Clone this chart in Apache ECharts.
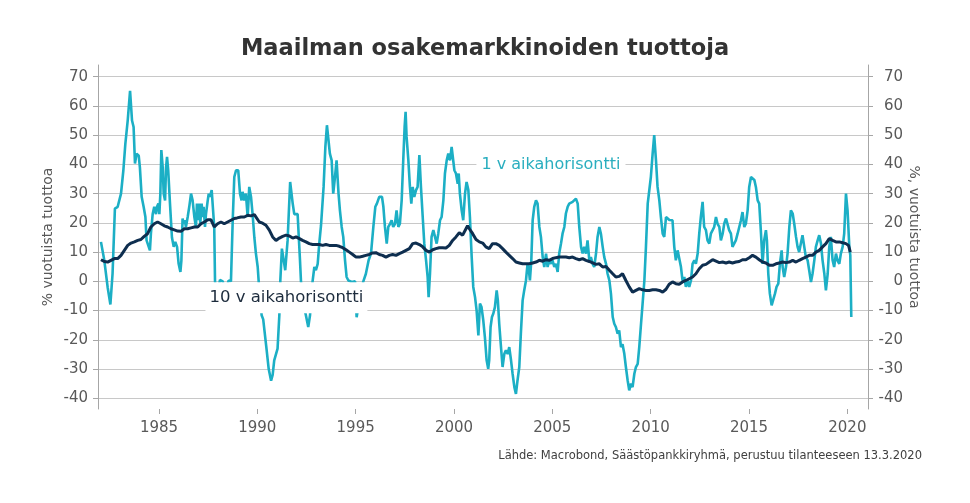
<!DOCTYPE html>
<html><head><meta charset="utf-8">
<script src="https://cdn.jsdelivr.net/npm/echarts@6/dist/echarts.min.js"></script>
<style>html,body{margin:0;padding:0;background:#fff}#c{width:970px;height:503px}</style>
</head><body><div id="c"></div>
<script>
const titleText = 'Maailman osakemarkkinoiden tuottoja';
const sourceText = 'Lähde: Macrobond, Säästöpankkiryhmä, perustuu tilanteeseen 13.3.2020';
const leftAxisName = '% vuotuista tuottoa';
const rightAxisName = '%, vuotuista tuottoa';
const oneYearLabel = '1 v aikahorisontti';
const tenYearLabel = '10 v aikahorisontti';
const yearTicks = [1985, 1990, 1995, 2000, 2005, 2010, 2015, 2020];
const valueTicks = [-40, -30, -20, -10, 0, 10, 20, 30, 40, 50, 60, 70];

const oneYearTime = [
1982.05,1982.22,1982.39,1982.53,1982.64,1982.76,1982.90,1982.98,1983.07,1983.19,1983.29,1983.41,1983.53,1983.63,1983.71,1983.78,1983.86,1983.97,1984.03,1984.12,1984.22,1984.31,1984.37,1984.48,1984.54,1984.59,1984.68,1984.76,1984.85,1984.90,1984.97,1985.02,1985.07,1985.12,1985.19,1985.24,1985.31,1985.36,1985.41,1985.47,1985.56,1985.66,1985.75,1985.83,1985.92,1986.00,1986.09,1986.14,1986.20,1986.25,1986.32,1986.37,1986.46,1986.54,1986.63,1986.71,1986.80,1986.88,1986.93,1987.00,1987.05,1987.10,1987.17,1987.22,1987.27,1987.34,1987.39,1987.48,1987.53,1987.59,1987.68,1987.73,1987.81,1987.85,1987.93,1988.02,1988.10,1988.24,1988.37,1988.54,1988.66,1988.75,1988.83,1988.92,1989.03,1989.12,1989.20,1989.25,1989.34,1989.42,1989.51,1989.59,1989.68,1989.76,1989.85,1989.93,1990.02,1990.07,1990.15,1990.22,1990.30,1990.45,1990.58,1990.70,1990.78,1990.86,1990.95,1991.03,1991.12,1991.17,1991.25,1991.42,1991.54,1991.67,
1991.80,1991.88,1991.97,1992.05,1992.10,1992.17,1992.22,1992.35,1992.47,1992.59,1992.68,1992.81,1992.90,1992.98,1993.07,1993.15,1993.24,1993.32,1993.37,1993.46,1993.54,1993.63,1993.69,1993.78,1993.86,1993.95,1994.03,1994.08,1994.13,1994.20,1994.29,1994.37,1994.46,1994.54,1994.63,1994.71,1994.80,1994.90,1994.97,1995.05,1995.15,1995.39,1995.52,1995.66,1995.78,1995.90,1996.00,1996.08,1996.20,1996.34,1996.41,1996.49,1996.58,1996.66,1996.75,1996.83,1996.91,1997.00,1997.08,1997.17,1997.25,1997.34,1997.42,1997.49,1997.54,1997.59,1997.68,1997.76,1997.83,1997.90,1997.98,1998.07,1998.15,1998.24,1998.32,1998.41,1998.49,1998.58,1998.66,1998.71,1998.78,1998.86,1998.95,1999.03,1999.12,1999.20,1999.29,1999.37,1999.46,1999.54,1999.63,1999.71,1999.80,1999.88,1999.97,2000.02,2000.10,2000.19,2000.24,2000.30,2000.39,2000.47,2000.56,2000.64,2000.73,2000.81,2000.90,2000.98,2001.07,2001.15,2001.24,
2001.32,2001.40,2001.49,2001.57,2001.66,2001.74,2001.79,2001.86,2001.93,2002.00,2002.08,2002.17,2002.23,2002.30,2002.39,2002.47,2002.56,2002.64,2002.73,2002.81,2002.90,2002.98,2003.07,2003.15,2003.23,2003.32,2003.40,2003.49,2003.57,2003.66,2003.74,2003.79,2003.86,2003.93,2004.00,2004.08,2004.17,2004.25,2004.34,2004.42,2004.51,2004.59,2004.68,2004.76,2004.84,2004.93,2005.01,2005.10,2005.18,2005.27,2005.35,2005.44,2005.52,2005.61,2005.69,2005.78,2005.86,2005.95,2006.03,2006.12,2006.20,2006.29,2006.37,2006.46,2006.54,2006.62,2006.71,2006.79,2006.88,2006.96,2007.05,2007.13,2007.22,2007.30,2007.39,2007.47,2007.56,2007.64,2007.73,2007.81,2007.90,2007.98,2008.07,2008.15,2008.23,2008.32,2008.40,2008.49,2008.57,2008.66,2008.74,2008.83,2008.91,2009.00,2009.08,2009.17,2009.25,2009.34,2009.42,2009.51,2009.59,2009.68,2009.76,2009.85,2009.93,2010.01,2010.10,2010.18,2010.27,2010.35,2010.44,2010.52,2010.61,2010.69,2010.78,2010.86,2010.95,
2011.03,2011.11,2011.20,2011.28,2011.37,2011.45,2011.54,2011.62,2011.71,2011.79,2011.88,2011.96,2012.05,2012.13,2012.22,2012.30,2012.39,2012.47,2012.55,2012.64,2012.72,2012.81,2012.89,2012.98,2013.06,2013.15,2013.23,2013.32,2013.40,2013.49,2013.57,2013.66,2013.74,2013.83,2013.91,2013.99,2014.08,2014.16,2014.25,2014.33,2014.42,2014.50,2014.59,2014.67,2014.76,2014.84,2014.93,2015.01,2015.10,2015.18,2015.27,2015.35,2015.44,2015.52,2015.61,2015.69,2015.77,2015.86,2015.91,2015.98,2016.06,2016.15,2016.23,2016.32,2016.40,2016.49,2016.57,2016.66,2016.71,2016.79,2016.88,2016.96,2017.05,2017.13,2017.22,2017.30,2017.39,2017.47,2017.55,2017.64,2017.72,2017.81,2017.89,2017.98,2018.06,2018.15,2018.23,2018.32,2018.40,2018.49,2018.57,2018.66,2018.74,2018.83,2018.91,2019.00,2019.08,2019.16,2019.25,2019.33,2019.42,2019.50,2019.59,2019.67,2019.76,2019.84,2019.93,2020.01,2020.10,2020.15,2020.20
];
const oneYearValue = [
13.5,7.2,-2,-7.9,2.6,24.9,25.5,24.9,30,38,47,55,65.2,55,52.8,40.3,43.7,43,39,28.9,25.5,22,14,11.8,10.6,16.3,23,25.5,23,25.5,26.6,23,30,44.9,39,30,27.7,39,42.6,38,26.6,15,11.8,13.5,11.8,6,3.2,7.2,21.5,19.7,20.9,18.6,22,25.5,30,27.7,22,18.6,26.6,20.9,26.6,19.7,26.6,22,25.5,18.6,23,27.7,30,28.9,31.2,30.6,18.6,0,-6,-3,0.5,0,-4,0.3,0,20.9,35.7,38,38,30,27.7,30.6,27.7,30,22,32.3,28.9,23,15,9.5,4.9,0,-6,-11.6,-13,-22,-30,-34,-32,-27,-27.5,-23,-11.6,0.3,11.2,3.8,14,34,
26.6,23,22.5,23,16.3,7.2,0,-8,-11.6,-15.6,-11.6,0,4.9,3.8,6,12.9,19.2,19.7,32.3,46,53.4,54,43.7,41.4,30,35.7,41.4,35.7,30,24.3,18.6,15.2,7.2,1.5,0.3,0.9,-0.2,0.3,0,-12.3,-8,0,2.6,7.2,9.5,18.6,25.5,26.6,28.9,28.9,25.5,18.6,12.9,18.6,19.7,20.9,18.6,19.7,24.3,18.6,19.7,27.7,41.4,52.9,58,49.4,41.4,32.3,26.6,32.3,28.9,31.2,32.3,43.2,32.3,22,12.9,7.2,1.5,-5.4,2.6,15.2,17.5,17.5,12.9,16.3,20.9,22,27.7,36.9,41.4,43.7,41.4,46,46,38,36.9,33.4,36.9,30,24.3,20.9,30,34,31.2,22,8.3,-1.9,-5.4,-9.9,-18.5,
-7.6,-8.8,-13.4,-19,-27,-29.9,-27,-15.6,-12.2,-11,-8.8,-3.1,-6.5,-14.5,-22.5,-29.3,-24.8,-23.6,-24.8,-22.5,-27,-31.6,-36.2,-38.5,-33.9,-29.3,-17.9,-6.5,-3.1,0.3,6,5,0.3,7,20.9,25.5,27.7,26.6,18.6,15.2,8.3,4.9,9.5,4.9,7.2,6,7.2,4.9,6,3.2,9.5,12.9,16.3,18.6,23.2,25.5,26.6,26.6,27.2,26.6,28.3,26.6,18.6,11.8,9.5,11.8,9.5,14,7.2,8.3,6,4.9,9.5,15.2,18.6,16.3,11.8,8.3,6,2.6,0.3,-4.2,-12.2,-14.5,-15.6,-17.9,-16.8,-22.5,-21.5,-24.8,-29.3,-33.9,-37.3,-35,-36.2,-31.6,-29.3,-28.2,-22.5,-14.5,-7.6,0.3,11.8,26.6,27,35.7,43.7,50,41.4,32.3,27.7,22,16.3,15.2,22,21.5,21,
21.5,20.9,11.8,7.2,10.6,10,4.9,0.3,1.5,-1.9,0.3,-1.9,0.3,6,7.2,6,9.5,16.3,22,27.2,18.6,17.5,14,12.9,16.3,17.5,18.6,22,19.7,18.6,14,16.3,19.7,21.5,20.9,17.5,16.3,11.8,11.8,14,16.3,16.3,20.9,23.7,18.6,19.7,24.3,32.3,35.7,36.3,34.7,32.3,27.7,26.6,16.3,6,14,17.5,14,2.6,-4.2,-8.2,-7.6,-4.2,-1.9,-0.8,6,10.6,4.9,1.5,4.9,9.5,18.6,24.3,23.2,19.7,15.2,11.8,10,9.5,15.8,11.8,8.3,7.2,3.8,-0.2,2.6,7.2,11.8,14,15.8,12.9,7.2,2.6,-3.1,2.6,11.8,15.2,7.2,4.9,9.5,7.2,6,9.5,11.8,16.3,30,24.3,11.8,8.9,-12.2
];

const tenYearTime = [
1982.05,1982.22,1982.39,1982.56,1982.73,1982.90,1983.07,1983.24,1983.41,1983.58,1983.75,1983.92,1984.08,1984.25,1984.42,1984.59,1984.76,1984.93,1985.10,1985.27,1985.44,1985.61,1985.78,1985.95,1986.12,1986.29,1986.46,1986.63,1986.80,1986.97,1987.14,1987.31,1987.48,1987.64,1987.81,1987.98,1988.15,1988.32,1988.49,1988.66,1988.83,1988.97,1989.17,1989.34,1989.51,1989.68,1989.85,1989.93,1990.10,1990.27,1990.44,1990.61,1990.78,1990.95,1991.12,1991.29,1991.46,
1991.63,1991.80,1991.97,1992.14,1992.30,1992.47,1992.64,1992.81,1992.98,1993.15,1993.32,1993.49,1993.66,1993.83,1994.00,1994.17,1994.34,1994.51,1994.68,1994.85,1995.02,1995.19,1995.36,1995.52,1995.69,1995.86,1996.03,1996.20,1996.37,1996.54,1996.71,1996.88,1997.05,1997.22,1997.39,1997.56,1997.73,1997.90,1998.07,1998.24,1998.41,1998.58,1998.75,1998.92,1999.08,1999.25,1999.42,1999.59,1999.76,1999.93,2000.10,2000.27,2000.44,2000.61,2000.69,2000.78,2000.95,
2001.12,2001.29,2001.46,2001.62,2001.79,2001.96,2002.13,2002.30,2002.47,2002.64,2002.81,2002.98,2003.15,2003.32,2003.49,2003.66,2003.83,2004.00,2004.17,2004.34,2004.51,2004.68,2004.84,2005.01,2005.18,2005.35,2005.52,2005.69,2005.86,2006.03,2006.20,2006.37,2006.54,2006.71,2006.88,2007.05,2007.22,2007.39,2007.56,2007.73,2007.90,2008.07,2008.23,2008.40,2008.57,2008.74,2008.91,2009.08,2009.25,2009.42,2009.59,2009.76,2009.93,2010.10,2010.27,2010.44,2010.61,2010.78,
2010.94,2011.11,2011.28,2011.45,2011.62,2011.79,2011.96,2012.13,2012.30,2012.47,2012.64,2012.81,2012.98,2013.15,2013.32,2013.49,2013.66,2013.83,2013.99,2014.16,2014.33,2014.50,2014.67,2014.84,2015.01,2015.18,2015.35,2015.52,2015.69,2015.86,2016.03,2016.20,2016.37,2016.54,2016.71,2016.88,2017.05,2017.22,2017.39,2017.55,2017.72,2017.89,2018.06,2018.23,2018.40,2018.57,2018.74,2018.91,2019.08,2019.16,2019.25,2019.42,2019.59,2019.76,2019.93,2020.06,2020.15
];
const tenYearValue = [
7.4,6.8,6.6,7.2,7.8,7.8,8.9,10.6,12.3,13.1,13.5,14,14.3,15.4,16.3,18.6,19.7,20.3,19.7,19,18.6,18,17.6,17.2,17.1,18,18,18.3,18.6,18.6,19.7,20.3,21.1,21.1,18.6,19.7,20.3,19.7,20.3,20.9,21.5,21.7,22,22,22.6,22.4,22.8,22.6,20.3,19.9,19.2,17.5,15.2,14,14.8,15.4,15.8,
15.5,14.8,15.2,14.6,14,13.5,12.9,12.6,12.6,12.6,12.3,12.6,12.3,12.3,12.3,12,11.5,10.8,10,9.2,8.3,8.3,8.6,8.9,9.2,9.7,9.8,9.2,8.9,8.3,8.9,9.2,8.9,9.5,10,10.6,11.2,12.9,13.1,12.6,11.8,10.6,10,10.8,11.2,11.5,11.5,11.4,12.3,14,15.2,16.6,15.8,18,19,18,16.3,
14.3,13.5,13.1,11.8,11.2,12.9,12.9,12.3,11.2,10,8.9,7.8,6.6,6.3,6,6,6,6.3,6.6,7.2,6.9,7.4,7.2,7.8,8.1,8.3,8.3,8.3,8.1,8.3,7.8,7.4,7.8,7.2,6.8,6.3,5.8,6,4.9,5.1,3.8,2.6,1.5,1.7,2.6,0.3,-1.9,-3.7,-3.1,-2.5,-2.9,-3.1,-3.1,-2.9,-2.9,-3.1,-3.7,-2.7,
-1,-0.2,-0.8,-1,-0.2,0.3,0.9,1.5,2.6,4.3,5.5,5.8,6.6,7.4,6.9,6.4,6.6,6.3,6.6,6.3,6.6,6.8,7.4,7.4,8.1,8.9,8.3,7.4,6.6,6.3,5.5,5.5,6,6.3,6.6,6.4,6.6,7.2,6.6,7.2,7.8,8.3,8.9,8.9,10,10.6,11.8,12.9,14.6,15,14,13.5,13.5,13.2,12.9,12.3,10
];

const oneYearData = oneYearTime.map((t, i) => [t, oneYearValue[i]]);
const tenYearData = tenYearTime.map((t, i) => [t, tenYearValue[i]]);

const FONT = 'DejaVu Sans';
const GRAY = '#595959';
const CYAN = '#1cafc5';
const NAVY = '#0e2e4f';

const chart = echarts.init(document.getElementById('c'), null, {renderer: 'canvas'});

function yAxisDef(pos) {
  const right = pos === 'right';
  return {
    type: 'value', position: pos, min: -43.66, max: 74,
    name: right ? rightAxisName : leftAxisName,
    nameLocation: 'middle', nameRotate: right ? -90 : 90, nameGap: right ? 39 : 43,
    nameMoveOverlap: false,
    nameTextStyle: {fontFamily: FONT, fontSize: 14, color: GRAY},
    axisLine: {show: true, onZero: false, lineStyle: {color: '#a6a6a6', width: 1}},
    axisTick: {show: true, length: 5, lineStyle: {color: '#a6a6a6'}, customValues: valueTicks},
    axisLabel: {fontFamily: FONT, fontSize: 15, color: GRAY, margin: right ? 35 : 10,
                align: 'right', customValues: valueTicks},
    splitLine: {show: !right, lineStyle: {color: '#c8c8c8', width: 1}}
  };
}

chart.setOption({
  animation: false,
  backgroundColor: '#fff',
  title: [
    {text: titleText, left: 'center', top: 33,
     textStyle: {fontFamily: FONT, fontWeight: 'bold', fontSize: 22.5, color: '#333333'}},
    {text: sourceText, right: 43, top: 445,
     textStyle: {fontFamily: FONT, fontWeight: 'normal', fontSize: 11.5, color: '#404040'}}
  ],
  grid: {left: 98, right: 102, top: 65, bottom: 94, containLabel: false},
  xAxis: {
    type: 'value', min: 1981.9, max: 2021.05,
    axisLine: {show: false, onZero: false},
    axisTick: {show: true, length: 5, lineStyle: {color: '#a6a6a6'}, customValues: yearTicks},
    axisLabel: {fontFamily: FONT, fontSize: 15, color: GRAY, margin: 12, customValues: yearTicks,
                formatter: v => String(v)},
    splitLine: {show: false}
  },
  yAxis: [yAxisDef('left'), yAxisDef('right')],
  series: [
    {type: 'line', name: oneYearLabel, data: oneYearData, yAxisIndex: 0, showSymbol: false,
     lineStyle: {color: CYAN, width: 2.6}, z: 2},
    {type: 'line', name: tenYearLabel, data: tenYearData, yAxisIndex: 0, showSymbol: false,
     lineStyle: {color: NAVY, width: 3}, z: 3}
  ]
});

const p1 = chart.convertToPixel({gridIndex: 0}, [2004.93, 39.8]);
const p10 = chart.convertToPixel({gridIndex: 0}, [1991.48, -5.6]);
chart.setOption({
  graphic: [
    {type: 'text', z: 100, x: p1[0], y: p1[1],
     style: {text: oneYearLabel, fill: '#2aaebf', font: '16px "DejaVu Sans"', align: 'center', verticalAlign: 'middle',
             backgroundColor: '#fff', padding: [5, 5]}},
    {type: 'text', z: 100, x: p10[0], y: p10[1],
     style: {text: tenYearLabel, fill: '#1c2b3c', font: '16.5px "DejaVu Sans"', align: 'center', verticalAlign: 'middle',
             backgroundColor: '#fff', padding: [7, 4]}}
  ]
});
</script></body></html>
